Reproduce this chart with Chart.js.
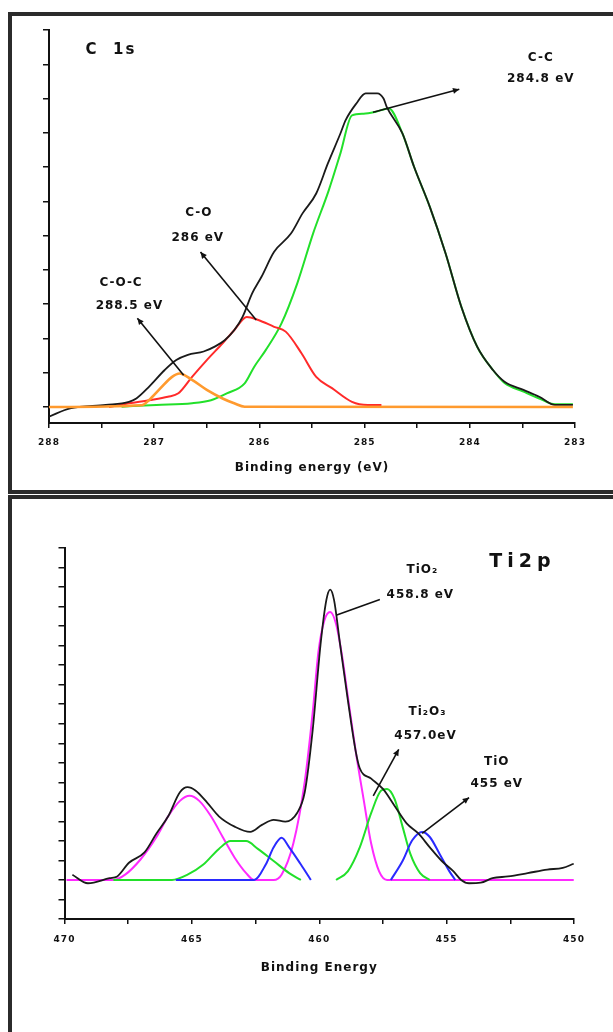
<!DOCTYPE html>
<html>
<head>
<meta charset="utf-8">
<script src="https://cdn.jsdelivr.net/npm/chart.js@4.4.1/dist/chart.umd.min.js"></script>
<style>
  html, body { margin: 0; padding: 0; background: #fff; }
  body { width: 613px; height: 1032px; position: relative; overflow: hidden; }
  .frame { position: absolute; box-sizing: border-box; border: 4px solid #2b2b2b; }
  #f1 { left: 8px; top: 12px; width: 640px; height: 482px; }
  #f2 { left: 8px; top: 495px; width: 640px; height: 600px; }
  canvas { position: absolute; left: 0; }
  #c1 { top: 0; }
  #c2 { top: 493px; }
</style>
</head>
<body>
<div class="frame" id="f1"></div>
<div class="frame" id="f2"></div>
<canvas id="c1" width="613" height="493"></canvas>
<canvas id="c2" width="613" height="539"></canvas>
<script>
// XPS curve fits: C 1s (top) and Ti 2p (bottom).
// Energies in eV, intensities in axis-tick units (baseline = 0).

// ---- C 1s ----
const c1sTotalE = [288.00, 287.80, 287.46, 287.24, 287.17, 287.05, 286.90, 286.79, 286.68, 286.53,
  286.42, 286.33, 286.24, 286.16, 286.07, 285.98, 285.86, 285.70, 285.59, 285.46,
  285.35, 285.23, 285.18, 285.08, 284.99, 284.88, 284.82, 284.79, 284.64, 284.53,
  284.38, 284.23, 284.08, 283.93, 283.78, 283.67, 283.49, 283.34, 283.19, 283.02];
const c1sTotalI = [-0.28, -0.04, 0.06, 0.15, 0.25, 0.59, 1.08, 1.37, 1.52, 1.62,
  1.77, 1.95, 2.24, 2.63, 3.31, 3.80, 4.53, 5.06, 5.65, 6.23,
  7.10, 7.98, 8.37, 8.85, 9.15, 9.15, 9.00, 8.76, 7.98, 7.01,
  5.84, 4.48, 2.92, 1.76, 1.08, 0.74, 0.50, 0.30, 0.06, 0.06];

const c1sCCE = [287.31, 286.98, 286.64, 286.46, 286.31, 286.14, 286.05, 285.94, 285.79, 285.64,
  285.49, 285.34, 285.23, 285.12, 285.01, 284.90, 284.77, 284.64, 284.53, 284.38,
  284.23, 284.08, 283.93, 283.78, 283.67, 283.49, 283.34, 283.19, 283.02];
const c1sCCI = [0.01, 0.06, 0.11, 0.20, 0.40, 0.69, 1.17, 1.66, 2.44, 3.61,
  5.06, 6.33, 7.40, 8.51, 8.56, 8.61, 8.71, 7.98, 7.01, 5.84,
  4.48, 2.92, 1.76, 1.08, 0.70, 0.45, 0.25, 0.08, 0.08];

const c1sCOE = [287.43, 287.24, 287.05, 286.87, 286.77, 286.64, 286.50, 286.35, 286.24, 286.12,
  286.01, 285.86, 285.75, 285.60, 285.46, 285.31, 285.12, 284.97, 284.84];
const c1sCOI = [0.00, 0.11, 0.20, 0.30, 0.40, 0.88, 1.37, 1.86, 2.24, 2.63,
  2.54, 2.34, 2.20, 1.57, 0.88, 0.55, 0.15, 0.06, 0.06];

const c1sCOCE = [288.00, 287.12, 287.05, 286.94, 286.83, 286.76, 286.64, 286.50, 286.35, 286.24, 286.14, 283.02];
const c1sCOCI = [0.00, 0.05, 0.20, 0.55, 0.88, 0.98, 0.79, 0.50, 0.25, 0.11, 0.01, 0.00];

const c1sEnergyTicks = [283, 283.5, 284, 284.5, 285, 285.5, 286, 286.5, 287, 287.5, 288];
const c1sIntensityTicks = [0, 1, 2, 3, 4, 5, 6, 7, 8, 9, 10, 11];

// text, energy, intensity, font size, letter spacing
const c1sLabels = [
  ["C  1s", 287.42, 10.41, 15, 2],
  ["C-C", 283.33, 10.20, 12, 1],
  ["284.8 eV", 283.33, 9.56, 12, 1],
  ["C-O", 286.58, 5.66, 12, 1],
  ["286 eV", 286.59, 4.93, 12, 1],
  ["C-O-C", 287.32, 3.62, 12, 1],
  ["288.5 eV", 287.24, 2.94, 12, 1],
];
// from (E, I) to (E, I), arrow head at the label end
const c1sPointers = [
  [284.92, 8.60, 284.10, 9.27, true],
  [286.03, 2.54, 286.56, 4.52, true],
  [286.72, 0.93, 287.16, 2.59, true],
];

// ---- Ti 2p ----
const tiTotalE = [469.69, 469.08, 468.23, 467.93, 467.47, 466.86, 466.39, 465.93, 465.47, 465.17,
  464.86, 464.40, 463.94, 463.32, 462.71, 462.25, 461.79, 461.33, 460.87, 460.57,
  460.26, 459.95, 459.72, 459.57, 459.42, 459.18, 458.88, 458.57, 458.41, 457.96,
  457.50, 457.04, 456.57, 456.11, 455.66, 455.19, 454.73, 454.43, 454.12, 453.66,
  453.20, 452.59, 451.82, 451.05, 450.44, 450.01];
const tiTotalI = [0.27, -0.17, 0.09, 0.18, 0.88, 1.41, 2.38, 3.26, 4.49, 4.75,
  4.58, 3.96, 3.26, 2.73, 2.46, 2.82, 3.08, 2.99, 3.43, 4.49,
  7.65, 12.05, 14.34, 14.87, 14.34, 12.05, 9.24, 6.60, 5.72, 5.19,
  4.66, 3.79, 2.90, 2.38, 1.67, 0.97, 0.44, 0.00, -0.17, -0.14,
  0.09, 0.18, 0.35, 0.53, 0.62, 0.83];

const tiO2E = [469.92, 468.08, 467.62, 467.01, 466.39, 465.93, 465.47, 465.09, 464.71, 464.25,
  463.79, 463.32, 462.87, 462.56, 461.79, 461.48, 461.02, 460.57, 460.26, 460.03,
  459.80, 459.57, 459.34, 459.11, 458.88, 458.57, 458.26, 457.96, 457.65, 457.34, 450.01];
const tiO2I = [0, 0, 0.27, 1.06, 2.20, 3.26, 4.05, 4.31, 4.05, 3.26,
  2.20, 1.14, 0.35, 0, 0, 0.27, 1.85, 5.02, 8.54, 11.70,
  13.29, 13.72, 13.11, 11.52, 9.41, 6.60, 4.14, 1.85, 0.44, 0, 0];

const ti2O3aE = [468.08, 465.78, 465.17, 464.55, 463.94, 463.48, 462.87, 462.41, 461.79, 461.18, 460.72];
const ti2O3aI = [0, 0, 0.27, 0.79, 1.59, 1.99, 1.99, 1.59, 0.97, 0.35, 0];
const ti2O3bE = [459.34, 458.88, 458.41, 457.96, 457.57, 457.34, 457.04, 456.73, 456.42, 456.04, 455.66];
const ti2O3bI = [0, 0.44, 1.67, 3.43, 4.58, 4.66, 4.14, 2.73, 1.32, 0.35, 0];

const tiOaE = [465.63, 462.56, 462.10, 461.79, 461.48, 461.18, 460.72, 460.33];
const tiOaI = [0, 0, 0.79, 1.67, 2.16, 1.67, 0.79, 0];
const tiObE = [457.19, 456.73, 456.35, 455.96, 455.66, 455.27, 454.89, 454.66];
const tiObI = [0, 0.97, 2.03, 2.46, 2.20, 1.32, 0.44, 0];

const tiEnergyTicks = [450, 452.5, 455, 457.5, 460, 462.5, 465, 467.5, 470];
const tiIntensityTicks = [-2, -1, 0, 1, 2, 3, 4, 5, 6, 7, 8, 9, 10, 11, 12, 13, 14, 15, 16, 17];

const tiLabels = [
  ["Ti2p", 452.12, 16.30, 19, 5],
  ["TiO\u2082", 455.97, 15.89, 12, 1],
  ["458.8 eV", 456.05, 14.62, 12, 1],
  ["Ti\u2082O\u2083", 455.77, 8.59, 12, 1],
  ["457.0eV", 455.85, 7.37, 12, 1],
  ["TiO", 453.05, 6.07, 12, 1],
  ["455 eV", 453.05, 4.93, 12, 1],
];
const tiPointers = [
  [459.34, 13.55, 457.62, 14.36, false],
  [457.88, 4.31, 456.88, 6.69, true],
  [455.96, 2.38, 454.12, 4.22, true],
];

const INK = "#111111";
const FONT = "DejaVu Sans";

Chart.defaults.font.family = FONT;
Chart.defaults.color = INK;

function pts(es, is) {
  return es.map((e, i) => ({ x: e, y: is[i] }));
}

function curve(label, es, is, color, width) {
  return {
    label,
    data: pts(es, is),
    borderColor: color,
    borderWidth: width || 2,
    pointRadius: 0,
    fill: false,
    cubicInterpolationMode: "monotone",
  };
}

function annotations(labels, pointers) {
  return {
    id: "annotations",
    beforeDraw(chart) {
      chart.ctx.letterSpacing = "1px";
    },
    afterDatasetsDraw(chart) {
      const ctx = chart.ctx;
      const sx = chart.scales.x;
      const sy = chart.scales.y;
      ctx.save();
      ctx.strokeStyle = INK;
      ctx.fillStyle = INK;
      ctx.lineWidth = 1.6;
      pointers.forEach(([e0, i0, e1, i1, head]) => {
        const x0 = sx.getPixelForValue(e0), y0 = sy.getPixelForValue(i0);
        const x1 = sx.getPixelForValue(e1), y1 = sy.getPixelForValue(i1);
        ctx.beginPath();
        ctx.moveTo(x0, y0);
        ctx.lineTo(x1, y1);
        ctx.stroke();
        if (head) {
          const a = Math.atan2(y1 - y0, x1 - x0);
          ctx.beginPath();
          ctx.moveTo(x1, y1);
          ctx.lineTo(x1 - 7 * Math.cos(a - 0.45), y1 - 7 * Math.sin(a - 0.45));
          ctx.lineTo(x1 - 7 * Math.cos(a + 0.45), y1 - 7 * Math.sin(a + 0.45));
          ctx.closePath();
          ctx.fill();
        }
      });
      ctx.textAlign = "center";
      ctx.textBaseline = "middle";
      labels.forEach(([text, e, i, size, spacing]) => {
        ctx.font = `bold ${size}px "${FONT}"`;
        ctx.letterSpacing = spacing + "px";
        ctx.fillText(text, sx.getPixelForValue(e) + spacing / 2, sy.getPixelForValue(i));
      });
      ctx.restore();
    },
  };
}

function axes(o) {
  const line = { display: true, color: INK, width: 2 };
  const marks = { drawOnChartArea: false, drawTicks: true, tickLength: 5, color: INK, lineWidth: 1.5 };
  return {
    x: {
      type: "linear",
      reverse: true,
      min: o.xMin,
      max: o.xMax,
      afterBuildTicks: (s) => { s.ticks = o.xTicks.map((v) => ({ value: v })); },
      afterFit: (s) => { s.height = o.xHeight; },
      border: line,
      grid: marks,
      ticks: {
        autoSkip: false,
        maxRotation: 0,
        padding: o.xPad,
        color: INK,
        font: { size: 9, weight: "bold" },
        callback: (v) => (v % o.xMajor === 0 ? String(v) : ""),
      },
      title: {
        display: true,
        text: o.xTitle,
        color: INK,
        font: { size: 12, weight: "bold" },
        padding: { top: 0, bottom: o.titlePad },
      },
    },
    y: {
      type: "linear",
      min: o.yMin,
      max: o.yMax,
      afterBuildTicks: (s) => { s.ticks = o.yTicks.map((v) => ({ value: v })); },
      afterFit: (s) => { s.width = o.yWidth; },
      border: line,
      grid: { ...marks, tickLength: 6 },
      ticks: { display: false },
    },
  };
}

function draw(id, datasets, scales, padding, plugin) {
  return new Chart(document.getElementById(id), {
    type: "line",
    data: { datasets },
    options: {
      responsive: false,
      animation: false,
      devicePixelRatio: 1,
      parsing: true,
      layout: { padding },
      plugins: { legend: { display: false }, tooltip: { enabled: false } },
      scales,
    },
    plugins: [plugin],
  });
}

// first dataset is painted on top
draw("c1", [
  curve("C-O-C", c1sCOCE, c1sCOCI, "#ff9a2e", 2.6),
  curve("Total", c1sTotalE, c1sTotalI, "#1a1a1a", 1.8),
  curve("C-O", c1sCOE, c1sCOI, "#ff2a2a", 2),
  curve("C-C", c1sCCE, c1sCCI, "#22e02a", 2),
], axes({
  xMin: 283, xMax: 288, xTicks: c1sEnergyTicks, xMajor: 1, xHeight: 70, xPad: 9,
  xTitle: "Binding energy (eV)", titlePad: 18,
  yMin: -0.466, yMax: 11, yTicks: c1sIntensityTicks, yWidth: 49,
}), { left: 0, top: 30, right: 38, bottom: 0 }, annotations(c1sLabels, c1sPointers));

draw("c2", [
  curve("Total", tiTotalE, tiTotalI, "#1a1a1a", 1.8),
  curve("TiO", tiOaE, tiOaI, "#2a2aff", 2),
  curve("TiO", tiObE, tiObI, "#2a2aff", 2),
  curve("Ti2O3", ti2O3aE, ti2O3aI, "#22e02a", 2),
  curve("Ti2O3", ti2O3bE, ti2O3bI, "#22e02a", 2),
  curve("TiO2", tiO2E, tiO2I, "#ff2aff", 2),
], axes({
  xMin: 450, xMax: 470, xTicks: tiEnergyTicks, xMajor: 5, xHeight: 113, xPad: 10,
  xTitle: "Binding Energy", titlePad: 57,
  yMin: -2, yMax: 17, yTicks: tiIntensityTicks, yWidth: 64.5,
}), { left: 0, top: 55, right: 39, bottom: 0 }, annotations(tiLabels, tiPointers));
</script>
</body>
</html>
